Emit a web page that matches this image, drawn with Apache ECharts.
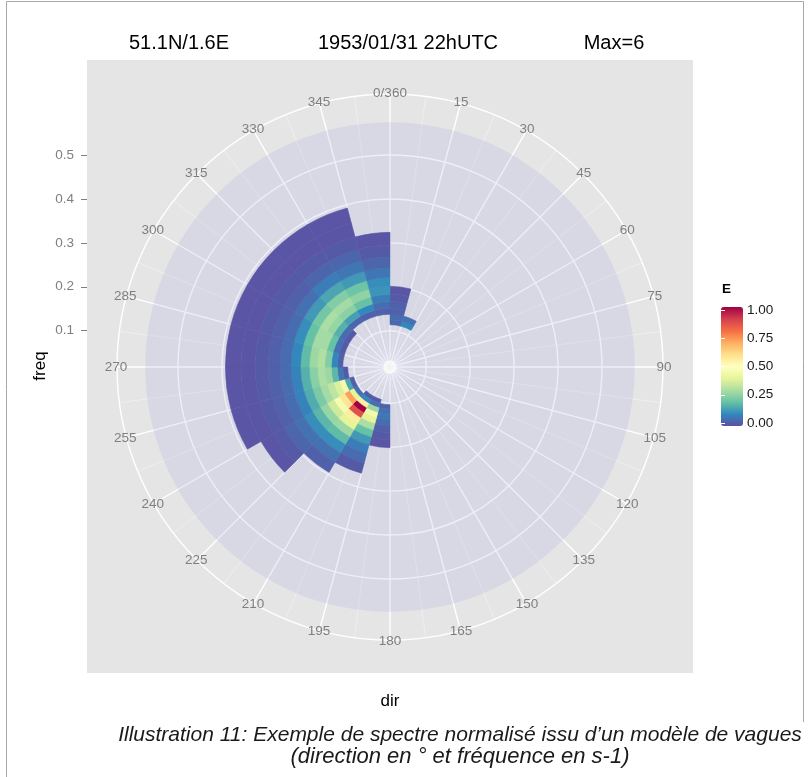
<!DOCTYPE html>
<html><head><meta charset="utf-8">
<script src="https://cdn.jsdelivr.net/npm/echarts@6.0.0/dist/echarts.min.js"></script>
<style>html,body{margin:0;padding:0;background:#fff}#c{width:809px;height:777px}</style>
</head><body><div id="c"></div>
<script>
// ---- data ----
const dirCenters = [7.5, 22.5, 187.5, 202.5, 217.5, 232.5, 247.5, 262.5, 277.5, 292.5, 307.5, 322.5, 337.5, 352.5];
const dirWidth = 15;
// frequency bin edges (s-1), bins k = 11..25
const freqEdges = [0.0939, 0.1032, 0.1136, 0.1249, 0.1374, 0.1512, 0.1663, 0.1829, 0.2012, 0.2213, 0.2434, 0.2678, 0.2946, 0.3240, 0.3564, 0.3921];
// normalised energy E per direction (rows) and frequency bin (columns), null = not drawn
const energyRows = [
  [null, null, 0.04, 0.05, 0.03, 0.03, 0.02, 0.01, null, null, null, null, null, null, null], // 7.5
  [null, null, 0.10, 0.06, null, null, null, null, null, null, null, null, null, null, null], // 22.5
  [null, 0.03, 0.06, 0.07, 0.05, 0.03, 0.02, 0.01, null, null, null, null, null, null, null], // 187.5
  [0.02, 0.05, 0.28, 0.45, 0.40, 0.30, 0.20, 0.13, 0.08, 0.05, 0.02, null, null, null, null], // 202.5
  [0.02, 0.10, 0.55, 1.00, 0.86, 0.56, 0.40, 0.28, 0.19, 0.11, 0.06, 0.03, null, null, null], // 217.5
  [null, 0.06, 0.40, 0.72, 0.58, 0.46, 0.36, 0.27, 0.18, 0.11, 0.06, 0.04, 0.02, 0.01, null], // 232.5
  [null, 0.03, 0.15, 0.45, 0.38, 0.33, 0.29, 0.23, 0.16, 0.09, 0.05, 0.03, 0.02, 0.01, 0.01], // 247.5
  [null, null, 0.02, 0.07, 0.18, 0.28, 0.30, 0.25, 0.17, 0.09, 0.05, 0.03, 0.02, 0.01, 0.01], // 262.5
  [null, null, null, 0.03, 0.10, 0.24, 0.31, 0.28, 0.19, 0.10, 0.05, 0.03, 0.02, 0.01, 0.01], // 277.5
  [null, null, null, 0.02, 0.06, 0.20, 0.29, 0.29, 0.20, 0.11, 0.05, 0.03, 0.02, 0.01, 0.01], // 292.5
  [null, null, null, 0.02, 0.05, 0.17, 0.27, 0.30, 0.22, 0.13, 0.06, 0.03, 0.02, 0.01, 0.01], // 307.5
  [null, null, null, null, 0.04, 0.14, 0.25, 0.29, 0.24, 0.15, 0.08, 0.04, 0.02, 0.01, 0.01], // 322.5
  [null, null, null, null, 0.03, 0.10, 0.20, 0.26, 0.21, 0.13, 0.07, 0.04, 0.02, 0.01, 0.01], // 337.5
  [null, null, null, null, 0.03, 0.05, 0.08, 0.12, 0.11, 0.07, 0.04, 0.02, 0.01, null, null]  // 352.5
];
const spectrumFreqRange = [0.0329, 0.5746];
const freqTicks = [0.1, 0.2, 0.3, 0.4, 0.5];
const dirTicks = [0, 15, 30, 45, 60, 75, 90, 105, 120, 135, 150, 165, 180, 195, 210, 225, 240, 255, 270, 285, 300, 315, 330, 345];
const dirTickLabels = ['0/360', '15', '30', '45', '60', '75', '90', '105', '120', '135', '150', '165', '180', '195', '210', '225', '240', '255', '270', '285', '300', '315', '330', '345'];
const legendTicks = [0, 0.25, 0.5, 0.75, 1];
const spectral = ['#5E4FA2', '#3288BD', '#66C2A5', '#ABDDA4', '#E6F598', '#FFFFBF', '#FEE08B', '#FDAE61', '#F46D43', '#D53E4F', '#9E0142'];

// ---- build tiles ----
const tiles = [];
dirCenters.forEach((d, i) => {
  energyRows[i].forEach((e, k) => {
    if (e !== null) tiles.push([d - dirWidth / 2, d + dirWidth / 2, freqEdges[k], freqEdges[k + 1], e]);
  });
});

const FONT = '"Liberation Sans", Arial, Helvetica, sans-serif';
const chart = echarts.init(document.getElementById('c'), null, { renderer: 'canvas' });

function px(api, cs, f, d) {
  const p = api.coord([f, d]);
  const dx = p[0] - cs.cx, dy = p[1] - cs.cy;
  return { r: Math.sqrt(dx * dx + dy * dy), a: Math.atan2(dy, dx), x: p[0], y: p[1] };
}

const option = {
  backgroundColor: '#ffffff',
  animation: false,
  polar: { center: [390, 367], radius: [0, 273] },
  angleAxis: {
    type: 'value', min: 0, max: 360, interval: 15, startAngle: 90, clockwise: true,
    axisLine: { show: true, lineStyle: { color: '#ffffff', width: 1.4 } },
    axisTick: { show: false },
    axisLabel: { show: false },
    splitLine: { show: true, lineStyle: { color: '#ffffff', width: 1.4 } },
    minorTick: { show: false, splitNumber: 2 },
    minorSplitLine: { show: true, lineStyle: { color: '#f2f2f2', width: 0.7 } }
  },
  radiusAxis: {
    type: 'value', min: 0.01736, max: 0.6389,
    axisLine: { show: false }, axisTick: { show: false }, axisLabel: { show: false },
    splitLine: { show: false }
  },
  grid: [
    { left: 87, top: 155, width: 10, height: 175.7, show: false },
    { left: 721, top: 310, width: 22, height: 113, show: false }
  ],
  xAxis: [
    { type: 'value', gridIndex: 0, show: false },
    { type: 'value', gridIndex: 1, show: false }
  ],
  yAxis: [
    {
      type: 'value', gridIndex: 0, min: 0.1, max: 0.5, interval: 0.1, position: 'left',
      axisLine: { show: false },
      axisTick: { show: true, length: 6, lineStyle: { color: '#7f7f7f', width: 1 } },
      axisLabel: { margin: 13, color: '#7f7f7f', fontSize: 13.5, fontFamily: FONT, formatter: v => v.toFixed(1) },
      splitLine: { show: false }
    },
    {
      type: 'value', gridIndex: 1, min: 0, max: 1, interval: 0.25, position: 'right', z: 10,
      axisLine: { show: false },
      axisTick: { show: true, inside: true, length: 4, lineStyle: { color: '#ffffff', width: 1 } },
      axisLabel: { margin: 4, color: '#1a1a1a', fontSize: 13.5, fontFamily: FONT, formatter: v => v.toFixed(2) },
      splitLine: { show: false }
    },
    {
      type: 'value', gridIndex: 1, min: 0, max: 1, interval: 0.25, position: 'left', z: 10,
      axisLine: { show: false },
      axisTick: { show: true, inside: true, length: 4, lineStyle: { color: '#ffffff', width: 1 } },
      axisLabel: { show: false },
      splitLine: { show: false }
    }
  ],
  visualMap: {
    type: 'continuous', min: 0, max: 1, dimension: 4, seriesIndex: 2,
    calculable: false, hoverLink: false, orient: 'vertical',
    left: 721, top: 307, itemWidth: 22, itemHeight: 119, padding: 0,
    text: null, showLabel: false,
    inRange: { color: spectral }
  },
  graphic: [
    { type: 'rect', z: -100, shape: { x: 87, y: 60, width: 606, height: 613 }, style: { fill: '#e5e5e5' } },
    { type: 'polyline', z: 50, shape: { points: [[6.5, 777], [6.5, 1.5], [803.5, 1.5], [803.5, 722]] }, style: { stroke: '#a8a8a8', lineWidth: 1, fill: 'none' } },
    { type: 'text', style: { text: '51.1N/1.6E', x: 179, y: 43, align: 'center', verticalAlign: 'middle', font: '20px ' + FONT, fill: '#000' } },
    { type: 'text', style: { text: '1953/01/31 22hUTC', x: 408, y: 43, align: 'center', verticalAlign: 'middle', font: '20px ' + FONT, fill: '#000' } },
    { type: 'text', style: { text: 'Max=6', x: 614, y: 43, align: 'center', verticalAlign: 'middle', font: '20px ' + FONT, fill: '#000' } },
    { type: 'text', x: 40, y: 366, rotation: Math.PI / 2, style: { text: 'freq', x: 0, y: 0, align: 'center', verticalAlign: 'middle', font: '17px ' + FONT, fill: '#000' } },
    { type: 'text', style: { text: 'dir', x: 390, y: 701, align: 'center', verticalAlign: 'middle', font: '17px ' + FONT, fill: '#000' } },
    { type: 'text', style: { text: 'E', x: 722, y: 289, align: 'left', verticalAlign: 'middle', font: 'bold 13.5px ' + FONT, fill: '#000' } },
    { type: 'text', style: { text: 'Illustration 11: Exemple de spectre normalisé issu d’un modèle de vagues', x: 460, y: 735, align: 'center', verticalAlign: 'middle', font: 'italic 21px ' + FONT, fill: '#1a1a1a' } },
    { type: 'text', style: { text: '(direction en ° et fréquence en s-1)', x: 460, y: 757, align: 'center', verticalAlign: 'middle', font: 'italic 22px ' + FONT, fill: '#1a1a1a' } }
  ],
  series: [
    { // radius grid circles
      type: 'custom', coordinateSystem: 'polar', z: 1, silent: true,
      data: freqTicks.map(f => [f]),
      encode: { radius: 0 },
      renderItem: function (params, api) {
        const cs = params.coordSys;
        const p = px(api, cs, api.value(0), 0);
        return { type: 'circle', shape: { cx: cs.cx, cy: cs.cy, r: p.r }, style: { fill: 'none', stroke: '#ffffff', lineWidth: 1.4 } };
      }
    },
    { // faint full spectrum disc
      type: 'custom', coordinateSystem: 'polar', z: 2, silent: true,
      data: [[spectrumFreqRange[0], spectrumFreqRange[1]]],
      encode: { radius: 0 },
      renderItem: function (params, api) {
        const cs = params.coordSys;
        const a = px(api, cs, api.value(0), 0), b = px(api, cs, api.value(1), 0);
        return { type: 'sector', shape: { cx: cs.cx, cy: cs.cy, r0: a.r, r: b.r, startAngle: 0, endAngle: Math.PI * 2, clockwise: true },
                 style: { fill: 'rgba(150,150,230,0.16)' } };
      }
    },
    { // energy tiles
      type: 'custom', coordinateSystem: 'polar', z: 3, silent: true,
      data: tiles,
      dimensions: ['d0', 'd1', 'f0', 'f1', 'E'],
      encode: { radius: 2, angle: 0 },
      renderItem: function (params, api) {
        const cs = params.coordSys;
        const inner = px(api, cs, api.value(2), api.value(0));
        const outer = px(api, cs, api.value(3), api.value(1));
        let a0 = inner.a, a1 = outer.a;
        if (a1 < a0) a1 += Math.PI * 2;
        const col = api.visual('color');
        return { type: 'sector', shape: { cx: cs.cx, cy: cs.cy, r0: inner.r, r: outer.r, startAngle: a0, endAngle: a1, clockwise: true },
                 style: { fill: col, stroke: col, lineWidth: 0.6 } };
      }
    },
    { // direction labels
      type: 'custom', coordinateSystem: 'polar', z: 4, silent: true,
      data: dirTicks.map((d, i) => [0.3, d, i]),
      encode: { radius: 0, angle: 1 },
      renderItem: function (params, api) {
        const cs = params.coordSys;
        const p = px(api, cs, api.value(0), api.value(1));
        const R = cs.r + 1;
        return { type: 'text', style: { text: dirTickLabels[api.value(2)], x: cs.cx + R * Math.cos(p.a), y: cs.cy + R * Math.sin(p.a),
                 align: 'center', verticalAlign: 'middle', font: '13.5px ' + FONT, fill: '#7f7f7f' } };
      }
    }
  ]
};
chart.setOption(option);
</script>
</body></html>
